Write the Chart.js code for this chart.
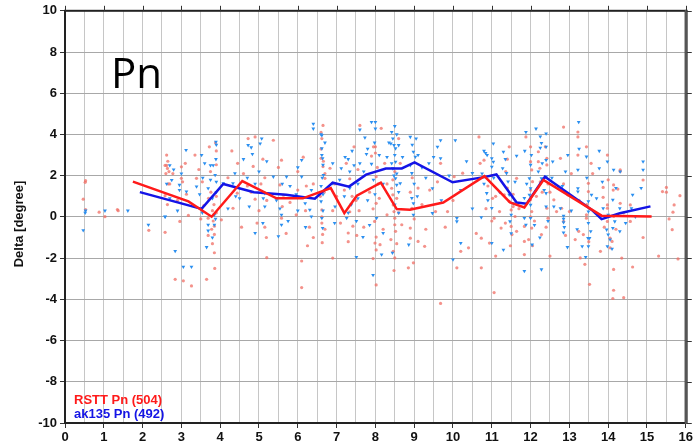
<!DOCTYPE html>
<html>
<head>
<meta charset="utf-8">
<title>Pn residuals</title>
<script src="https://cdn.jsdelivr.net/npm/chart.js@4.4.1/dist/chart.umd.min.js"></script>
<style>
  html, body { margin: 0; padding: 0; background: #fff; }
</style>
</head>
<body>
<canvas id="pnChart" width="695" height="447"></canvas>
<script>
// binned means (distance in degrees, residual in degrees)
const rsttMeanX = [1.75, 3.18, 3.78, 4.57, 5.45, 6.13, 6.85, 7.2, 7.52, 8.14, 8.55, 8.89, 9.75, 10.81, 11.47, 11.84, 12.33, 13.83, 15.12];
const rsttMeanY = [1.71, 0.75, 0.01, 1.74, 0.9, 0.9, 1.4, 0.18, 1.03, 1.66, 0.38, 0.35, 0.7, 1.98, 0.7, 0.46, 1.79, 0.06, 0.02];
const ak135MeanX = [1.93, 3.52, 4.08, 4.87, 5.7, 6.44, 6.9, 7.32, 7.76, 8.27, 8.68, 9.01, 9.99, 10.8, 11.12, 11.64, 11.9, 12.37, 13.57, 13.83, 14.3, 15.09];
const ak135MeanY = [1.2, 0.39, 1.6, 1.2, 1.08, 0.88, 1.66, 1.47, 2.05, 2.35, 2.35, 2.64, 1.68, 1.93, 2.06, 0.7, 0.64, 1.95, 0.35, -0.11, 0.18, 0.51];

// individual picks, [distance, residual]
const rsttPicks = [
  [0.53,1.76],[0.52,1.68],[0.47,0.86],[0.53,0.35],[0.88,0.23],[1.03,0.01],[1.35,0.36],[1.37,0.3],[2.16,-0.65],[2.58,2.5],[2.58,-0.75],
  [2.62,3.0],[2.62,2.5],[2.64,2.35],[2.6,2.1],[2.68,2.2],[2.78,2.1],[3.0,2.43],[3.0,1.87],[3.03,1.7],[3.13,1.1],[3.18,0.07],[2.96,-0.22],
  [3.35,3.0],[3.39,1.87],[3.54,1.7],[3.58,0.55],[3.69,-0.06],[3.69,-0.9],[3.85,-0.45],[3.85,-0.85],[3.85,-1.74],[3.9,2.53],[3.9,3.2],
  [2.84,-3.03],[3.05,-3.1],[3.26,-3.35],[3.65,-3.03],[4.03,-0.14],[4.33,0.42],[4.44,1.15],[4.72,3.8],[4.9,3.88],[4.85,2.45],[4.9,0.86],
  [5.15,-0.5],[5.19,-1.0],[5.2,-1.98],[2.58,1.03],[3.8,0.3],[3.82,-0.2],[3.78,-0.6],[3.84,0.6],[3.9,1.0],[3.75,2.2],[3.88,3.6],
  [2.7,1.6],[2.9,0.8],[3.1,2.6],[3.5,-0.1],[3.45,2.3],[4.2,1.9],[4.6,2.1],[4.7,1.5],[5.0,0.3],[5.05,1.6],[4.55,-0.5],
  [2.65,2.7],[2.66,1.6],[2.64,0.6],[3.72,3.4],[3.76,1.2],[3.8,-1.3],[3.86,-2.5],[3.9,0.2],[3.7,0.9],
  [4.3,3.2],[4.45,2.6],[4.8,1.2],[5.1,2.8],[5.15,1.9],[5.2,0.8],[4.95,-0.3],
  [5.37,3.72],[5.58,2.75],[5.54,1.55],[5.63,1.05],[5.58,-0.06],[5.96,0.1],[6.14,2.9],[6.22,1.5],[6.1,-2.14],[6.1,-3.43],[6.4,-1.0],
  [6.65,4.44],[6.6,2.84],[6.65,2.44],[6.7,1.87],[6.62,0.34],[6.62,-0.3],[6.64,-0.85],[6.63,-1.25],[6.83,2.36],[7.0,1.0],[7.34,1.85],
  [7.34,0.25],[7.42,-0.45],[7.3,-0.78],[7.6,4.44],[7.9,2.95],[7.94,0.39],[7.98,-0.22],[8.02,-0.98],[7.94,-2.02],[8.02,-3.3],[8.07,1.6],
  [6.6,3.3],[6.68,1.2],[6.62,0.0],[6.7,2.1],[5.8,0.7],[6.0,1.3],[6.9,0.3],[7.1,-0.3],[7.2,1.3],[7.5,0.8],[7.55,2.3],[7.7,-0.5],
  [7.85,1.2],[7.95,3.4],[6.4,1.6],[6.3,-0.5],
  [5.5,2.4],[5.6,0.5],[5.7,-0.8],[6.0,2.2],[6.2,0.3],[6.25,-1.4],
  [6.6,4.1],[6.62,3.8],[6.66,2.7],[6.58,1.0],[6.7,-0.6],[6.9,-2.0],[6.95,1.6],
  [7.25,2.6],[7.3,-1.2],[7.4,1.0],[7.45,3.4],[7.52,-0.9],[7.58,0.3],
  [8.0,3.4],[8.0,3.1],[8.02,1.95],[8.02,0.66],[7.99,-1.27],[8.02,-1.6],[8.24,2.6],[8.12,-1.35],[8.42,1.39],[8.45,1.07],[8.46,0.58],
  [8.48,0.26],[8.5,-0.38],[8.52,-0.7],[8.5,-0.06],[8.46,-1.67],[8.5,-1.99],[8.6,3.8],[8.64,2.6],[8.68,-0.38],[8.85,-2.47],[8.9,-0.54],
  [8.9,-1.03],[8.98,-2.23],[8.94,0.42],[9.1,-1.19],[9.27,-1.43],[9.55,0.26],[9.68,2.6],[9.86,0.26],[9.68,-4.2],[10.1,-2.47],[10.2,-1.67],
  [10.25,2.12],[10.03,1.95],[8.45,1.8],[8.5,2.2],[8.55,0.9],[8.9,1.2],[8.95,1.9],[9.2,0.6],[9.4,1.3],[8.3,0.1],[8.2,-0.6],[9.0,-0.1],
  [8.05,2.4],[8.1,0.9],[8.15,4.3],[8.3,1.6],[8.4,-1.1],[8.48,-2.6],[8.55,-1.3],[8.6,0.2],
  [9.1,1.4],[9.3,-0.6],[9.6,1.7],[9.8,-0.5],[10.0,0.8],[10.4,-1.5],[10.6,-0.8],
  [10.67,3.88],[10.7,2.6],[10.8,2.75],[10.73,-1.03],[10.73,-2.47],[11.06,-3.67],[11.06,-0.06],[11.0,-0.2],[10.94,-1.27],[11.2,0.26],
  [11.24,-0.54],[11.45,3.4],[11.36,2.2],[11.32,1.07],[11.45,0.75],[11.5,0.34],[11.5,-0.46],[11.52,-0.86],[11.64,1.87],[11.6,0.02],
  [11.64,-0.7],[11.84,-0.46],[11.84,-1.19],[11.84,-1.83],[11.88,3.88],[12.0,2.68],[12.03,2.28],[12.05,1.71],[12.0,0.83],[12.03,0.26],
  [12.03,-0.54],[12.2,3.16],[12.2,2.68],[12.24,2.36],[12.28,-0.86],[12.42,2.84],[12.42,2.52],[12.42,0.42],[12.45,-0.06],[12.5,-1.9],
  [12.6,0.83],[12.67,0.26],[12.77,2.84],[12.85,4.36],[12.8,0.42],[12.85,-0.22],[12.96,1.07],[13.0,0.26],[13.22,3.0],[13.22,3.88],
  [13.22,4.12],[13.24,-0.7],[13.28,-1.99],[10.9,1.5],[11.1,1.0],[11.4,1.4],[11.55,1.1],[11.7,0.4],[12.0,1.3],[12.1,-0.2],[12.3,1.2],
  [12.45,1.6],[12.0,3.4],[10.85,0.4],
  [11.0,2.0],[11.02,0.9],[11.1,-1.9],[11.35,-0.3],[11.4,2.8],[11.48,-1.4],[11.55,0.5],
  [11.95,-1.1],[12.0,0.0],[12.05,-1.4],[12.15,1.0],[12.25,1.7],[12.38,3.4],[12.4,-0.5],[12.5,1.2],
  [12.85,1.6],[12.9,-0.9],[13.05,2.1],[13.15,-1.1],[13.25,0.8],
  [13.44,3.4],[13.98,3.0],[13.56,2.6],[14.31,2.28],[14.31,2.2],[13.49,1.63],[13.49,1.23],[13.87,1.43],[14.13,1.3],[14.14,1.55],
  [14.25,1.35],[13.87,0.95],[13.98,0.58],[13.98,0.42],[14.31,0.66],[14.57,0.58],[13.44,0.1],[13.44,-0.06],[13.98,-0.22],[14.14,0.02],
  [14.57,-0.22],[13.36,-0.86],[14.05,-1.03],[14.1,-1.19],[13.8,-1.67],[13.4,-2.3],[14.14,-2.55],[14.63,-2.43],[13.52,-3.27],[14.14,-3.56],
  [14.12,-3.96],[14.4,-3.92],[14.9,1.79],[14.9,-1.0],[15.4,1.23],[15.5,1.43],[15.5,1.2],[15.7,0.58],[15.67,0.23],[15.57,-0.1],
  [15.65,-0.62],[15.3,-1.9],[15.8,-2.04],[15.85,1.03],
  [13.45,0.6],[13.5,-1.2],[13.6,2.1],[13.9,-0.5],[14.0,1.8],[14.05,-1.5],[14.2,-0.6],[14.35,-2.0],[14.4,0.2]
];

const ak135Picks = [
  [0.53,0.3],[0.52,0.2],[0.47,-0.65],[1.03,0.3],[1.62,0.3],[2.15,-0.38],[2.58,0.0],
  [3.12,3.24],[3.52,3.0],[3.89,3.64],[3.9,3.5],[3.89,2.8],[3.87,2.03],[3.9,1.7],[3.69,1.39],[2.75,1.79],[2.95,1.55],[2.95,1.3],
  [3.13,1.23],[3.39,1.47],[3.47,1.1],[3.52,0.35],[3.54,0.2],[3.69,-0.38],[3.69,-0.67],[3.85,-0.38],[3.65,-1.47],[2.84,-1.66],
  [3.05,-2.42],[3.26,-2.42],[4.38,2.11],[4.08,1.63],[4.33,1.63],[4.72,3.48],[4.8,3.37],[5.03,3.56],[5.07,3.8],[4.83,3.05],
  [5.15,1.15],[5.11,0.9],[5.15,0.5],[4.9,-0.78],[2.58,0.02],[3.8,0.9],[3.85,0.1],[3.75,2.5],[3.0,2.1],[2.7,2.5],[4.5,0.9],
  [4.7,1.9],[5.0,2.2],[4.2,0.4],
  [2.62,1.6],[2.7,0.9],[2.8,2.3],[2.9,0.3],
  [3.55,1.9],[3.6,2.6],[3.75,1.8],[3.8,-1.0],[3.88,-0.1],[3.9,1.2],[3.82,2.5],
  [4.4,1.0],[4.6,2.8],[4.75,0.5],[4.9,1.6],[5.1,-0.3],[5.2,2.7],
  [5.37,1.95],[5.71,1.95],[5.54,0.4],[5.58,0.1],[5.58,-0.38],[5.5,-0.94],[5.96,1.1],[6.1,2.76],[6.1,1.95],[6.19,0.66],[6.31,0.34],
  [6.35,0.02],[6.4,4.52],[6.4,4.28],[6.62,3.96],[6.62,3.32],[6.64,2.84],[6.65,2.52],[6.66,2.03],[6.6,0.75],[6.62,-0.06],[6.64,-0.54],
  [6.9,1.63],[7.12,2.36],[7.08,1.8],[6.96,0.5],[7.26,-0.06],[7.34,2.2],[7.34,1.4],[7.38,0.6],[7.51,-0.2],[7.51,-1.95],[7.68,-0.98],
  [7.6,4.23],[7.73,3.85],[7.77,3.05],[7.9,4.6],[7.98,3.6],[7.94,-2.82],[7.9,2.57],[6.6,1.5],[6.65,1.1],[6.7,3.6],[7.2,1.0],
  [7.55,1.6],[7.6,2.6],[7.8,0.8],[5.8,1.5],[6.0,0.3],[7.4,3.2],[7.3,2.8],
  [5.45,0.8],[5.6,1.6],[5.75,-0.2],[6.0,2.4],[6.2,-0.5],[6.35,1.3],
  [6.6,4.0],[6.62,3.0],[6.63,1.9],[6.65,0.3],[6.9,2.6],[6.95,-0.3],
  [7.22,2.9],[7.3,0.2],[7.45,2.5],[7.55,0.9],[7.7,2.2],[7.8,3.3],[7.85,-0.4],[7.95,1.8],
  [8.0,4.6],[8.0,4.28],[7.99,1.1],[8.03,-0.06],[8.2,-0.78],[8.16,-1.83],[8.42,4.12],[8.4,3.56],[8.45,3.8],[8.48,3.48],[8.52,3.32],
  [8.5,3.0],[8.52,2.67],[8.45,2.35],[8.52,1.87],[8.55,1.55],[8.6,3.48],[8.64,1.63],[8.44,-1.74],[8.9,3.88],[8.98,3.16],[9.03,2.91],
  [8.94,2.12],[8.94,0.91],[8.98,0.66],[8.98,0.1],[8.86,-1.35],[9.1,3.0],[9.38,2.6],[9.47,1.39],[9.47,0.18],[9.6,3.4],[9.68,3.72],
  [9.68,2.84],[10.06,3.72],[10.1,-0.06],[10.1,-0.22],[10.2,-1.27],[10.0,-2.07],[10.5,2.12],[8.5,4.4],[8.55,2.1],[8.6,1.2],
  [8.95,3.5],[9.0,1.6],[8.3,2.9],[8.5,0.6],[9.2,2.4],
  [8.1,3.0],[8.2,1.6],[8.35,3.6],[8.42,2.6],[8.48,2.0],[8.55,4.0],[8.6,0.2],[8.7,2.9],[8.9,2.5],[9.05,3.8],[9.08,1.0],
  [9.3,1.9],[9.5,2.9],[9.7,0.8],[9.9,2.0],[10.2,1.3],[10.35,2.7],[10.5,0.4],
  [10.8,3.2],[10.84,3.1],[10.88,3.0],[11.04,3.56],[11.0,2.84],[11.04,2.67],[11.0,2.43],[10.87,1.15],[10.73,-0.02],[11.0,0.43],
  [11.0,-1.27],[11.3,3.16],[11.28,2.36],[11.38,2.12],[11.42,1.71],[11.45,1.07],[11.64,2.96],[11.55,0.66],[11.5,0.1],[11.47,-0.22],
  [11.3,-1.6],[11.88,4.12],[11.84,0.91],[11.84,-0.06],[11.88,-0.38],[11.84,-2.63],[12.0,2.52],[11.97,1.87],[12.0,1.39],[11.97,1.07],
  [12.0,0.58],[12.0,-0.06],[12.04,-1.35],[12.14,4.28],[12.25,3.9],[12.28,3.58],[12.25,3.35],[12.2,2.2],[12.28,1.87],[12.4,4.04],
  [12.4,3.4],[12.4,2.76],[12.4,1.95],[12.4,1.15],[12.4,0.5],[12.24,-1.0],[12.28,-2.55],[12.57,2.68],[12.6,0.5],[12.77,0.42],
  [12.85,0.05],[12.85,-0.1],[12.85,-0.26],[12.85,-0.76],[12.95,-1.47],[12.96,3.0],[13.22,2.28],[13.24,4.6],[13.22,1.39],[13.22,1.23],
  [10.75,2.1],[10.8,1.6],[10.9,0.8],[11.05,1.9],[11.2,1.2],[11.35,2.8],[11.5,-0.8],[11.6,1.7],
  [11.85,3.2],[11.9,1.6],[12.02,3.0],[12.1,-0.4],[12.3,2.6],[12.35,1.3],[12.45,-0.2],[12.55,1.9],
  [12.82,1.5],[12.87,-0.5],[12.9,2.2],[13.05,0.3],[13.2,-0.6],[13.25,3.3],
  [13.44,2.92],[13.77,3.2],[13.77,2.36],[13.98,2.68],[14.14,2.28],[14.31,2.2],[14.9,2.68],[14.9,2.28],[13.57,1.07],[13.49,0.75],
  [13.49,0.26],[13.49,-0.3],[13.87,0.42],[14.12,0.83],[14.17,-0.22],[13.96,-0.62],[14.0,-0.86],[14.12,-0.54],[14.3,-0.7],
  [13.98,-1.43],[14.1,-1.55],[13.48,-1.03],[13.52,-1.03],[13.49,-1.43],[13.33,-1.43],[13.42,-1.95],[14.63,1.07],[14.6,0.42],[14.3,0.42],
  [13.45,1.9],[13.55,-0.7],[13.7,0.9],[13.85,1.7],[14.0,0.1],[14.05,-1.1],[14.2,1.4],[14.45,-0.3],[14.7,0.0],[14.85,1.4]
];

const legendLabels = ["RSTT Pn (504)", "ak135 Pn (492)"];
const phaseName = "Pn";
const yTitle = "Delta [degree]";

const toXY = (xs, ys) => xs.map((x, i) => ({ x, y: ys[i] }));
const pairsToXY = pairs => pairs.map(p => ({ x: p[0], y: p[1] }));

const RED = "#ff1a1a";
const BLUE = "#1414e6";
const LABEL_FONT = '"Liberation Sans", Arial, sans-serif';

// frame, outer ticks on top/right, big phase label, legend text, y title
const decorations = {
  id: "decorations",
  afterDraw(chart) {
    const { ctx, chartArea: a } = chart;
    const xs = chart.scales.x, ys = chart.scales.y;
    ctx.save();

    ctx.strokeStyle = "#222";
    ctx.lineWidth = 2;
    ctx.strokeRect(a.left, a.top, a.right - a.left, a.bottom - a.top);
    ctx.fillStyle = "#555";
    ctx.fillRect(a.right - 1, a.top - 1, 3, a.bottom - a.top + 2);

    ctx.lineWidth = 1;
    ctx.strokeStyle = "#333";
    ctx.beginPath();
    for (let v = 0; v <= 16; v++) {
      const px = Math.round(xs.getPixelForValue(v)) + 0.5;
      ctx.moveTo(px, a.top);
      ctx.lineTo(px, a.top - 5);
    }
    for (let v = -10; v <= 10; v += 2) {
      const py = Math.round(ys.getPixelForValue(v)) + 0.5;
      ctx.moveTo(a.right + 1, py);
      ctx.lineTo(a.right + 6, py);
    }
    ctx.stroke();

    ctx.fillStyle = "#000";
    ctx.font = '42px "Open Sans", sans-serif';
    ctx.textBaseline = "alphabetic";
    ctx.textAlign = "left";
    ctx.fillText(phaseName, 111, 88);

    ctx.font = "bold 13px " + LABEL_FONT;
    ctx.textBaseline = "middle";
    ctx.fillStyle = RED;
    ctx.fillText(legendLabels[0], 74, 400);
    ctx.fillStyle = BLUE;
    ctx.fillText(legendLabels[1], 74, 414);

    ctx.fillStyle = "#111";
    ctx.translate(19, 224);
    ctx.rotate(-Math.PI / 2);
    ctx.textAlign = "center";
    ctx.fillText(yTitle, 0, 0);
    ctx.restore();
  }
};

new Chart(document.getElementById("pnChart"), {
  type: "scatter",
  data: {
    datasets: [
      {
        label: legendLabels[0] + " mean",
        data: toXY(rsttMeanX, rsttMeanY),
        showLine: true,
        borderColor: RED,
        borderWidth: 2.5,
        pointRadius: 0,
        tension: 0
      },
      {
        label: legendLabels[1] + " mean",
        data: toXY(ak135MeanX, ak135MeanY),
        showLine: true,
        borderColor: BLUE,
        borderWidth: 2.5,
        pointRadius: 0,
        tension: 0
      },
      {
        label: legendLabels[1],
        data: pairsToXY(ak135Picks),
        pointStyle: "triangle",
        rotation: 180,
        pointRadius: 2.2,
        pointBorderWidth: 0,
        backgroundColor: "#2b8ff0",
        borderColor: "#2b8ff0"
      },
      {
        label: legendLabels[0],
        data: pairsToXY(rsttPicks),
        pointStyle: "circle",
        pointRadius: 1.6,
        pointBorderWidth: 0,
        backgroundColor: "rgba(240,110,100,0.75)",
        borderColor: "rgba(240,110,100,0.75)"
      }
    ]
  },
  options: {
    responsive: false,
    animation: false,
    layout: { padding: { top: 8, right: 9, left: 0, bottom: 0 } },
    plugins: {
      legend: { display: false },
      tooltip: { enabled: false }
    },
    scales: {
      x: {
        type: "linear",
        min: 0,
        max: 16,
        border: { display: false },
        afterFit: s => { s.height = 24; },
        grid: {
          color: "#c6c6c6",
          lineWidth: 1,
          tickLength: 5,
          tickColor: c => Number.isInteger(c.tick.value) ? "#333" : "rgba(0,0,0,0)"
        },
        ticks: {
          stepSize: 0.5,
          autoSkip: false,
          maxRotation: 0,
          padding: 2,
          color: "#111",
          font: { family: LABEL_FONT, size: 13, weight: "bold" },
          callback: v => Number.isInteger(v) ? String(v) : ""
        }
      },
      y: {
        type: "linear",
        min: -10,
        max: 10,
        border: { display: false },
        afterFit: s => { s.width = 65; },
        grid: {
          color: "#a8a8a8",
          lineWidth: 1,
          tickLength: 5,
          tickColor: "#333"
        },
        ticks: {
          stepSize: 2,
          padding: 3,
          color: "#111",
          font: { family: LABEL_FONT, size: 13, weight: "bold" }
        }
      }
    }
  },
  plugins: [decorations]
});
</script>
</body>
</html>
